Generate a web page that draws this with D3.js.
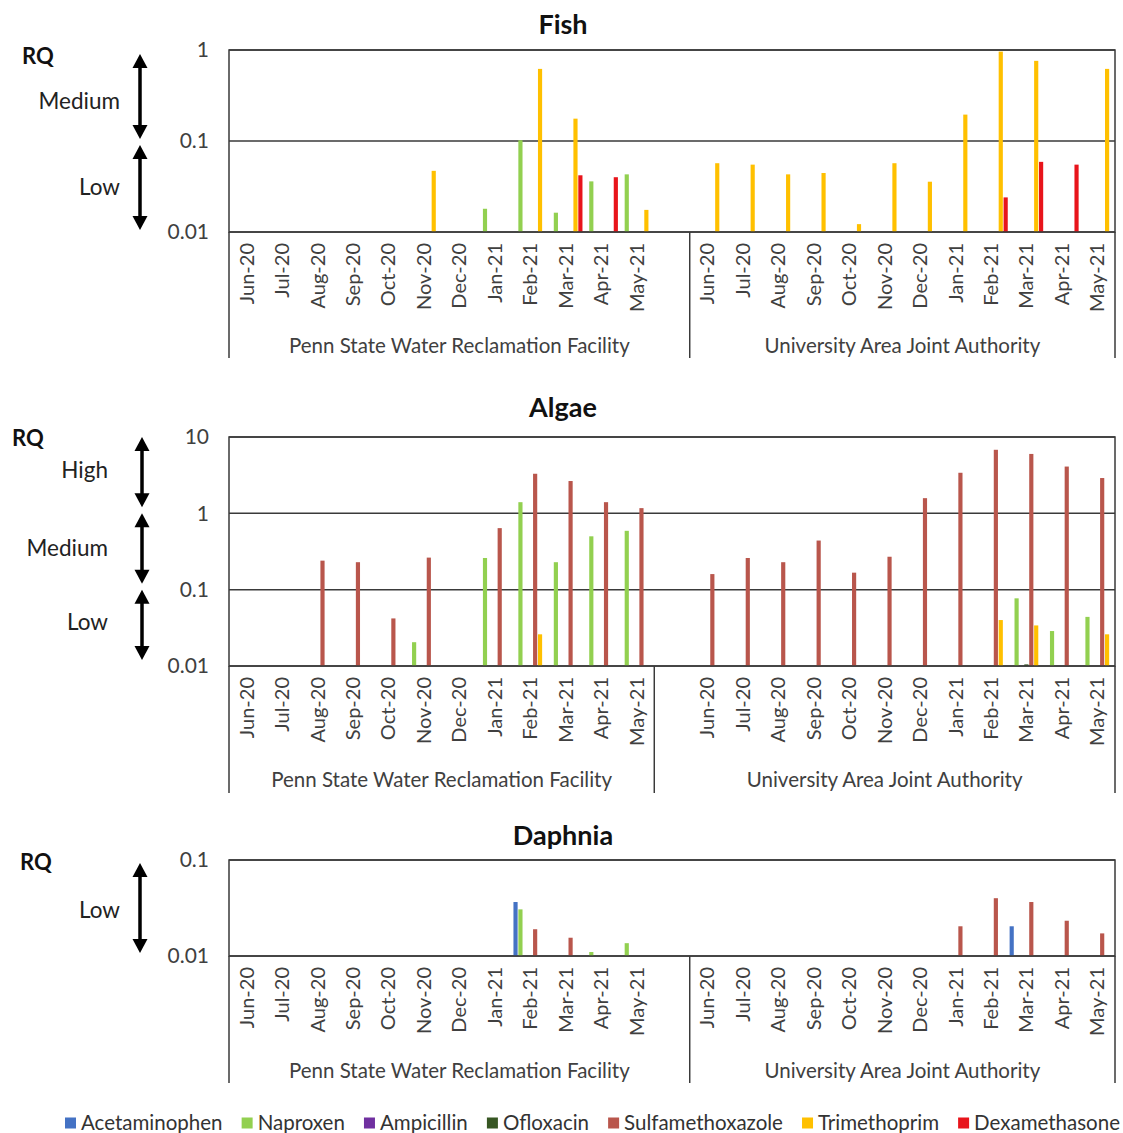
<!DOCTYPE html>
<html>
<head>
<meta charset="utf-8">
<script src="https://cdn.jsdelivr.net/npm/d3@7"></script>
<style>
  body { margin: 0; background: #fff; }
  svg { display: block; font-family: Lato, "Open Sans", sans-serif; }
</style>
</head>
<body>
<svg id="chart" width="1123" height="1133"></svg>
<script>
// ---------------- DATA ----------------
const months = ["Jun-20","Jul-20","Aug-20","Sep-20","Oct-20","Nov-20","Dec-20","Jan-21","Feb-21","Mar-21","Apr-21","May-21"];
const facilities = ["Penn State Water Reclamation Facility", "University Area Joint Authority"];
const series = ["Acetaminophen","Naproxen","Ampicillin","Ofloxacin","Sulfamethoxazole","Trimethoprim","Dexamethasone"];
const seriesColors = ["#4472C4","#92D050","#7030A0","#375623","#B9564C","#FFC000","#E8141B"];

// Values: 24 per series = 12 months Penn State, then 12 months UAJA (null = none)
const _ = null;
// Fish
const fishAcetaminophen    = [_,_,_,_,_,_,_,_,_,_,_,_,  _,_,_,_,_,_,_,_,_,_,_,_];
const fishNaproxen         = [_,_,_,_,_,_,_,0.018,0.102,0.0163,0.036,0.043,  _,_,_,_,_,_,_,_,_,_,_,_];
const fishAmpicillin       = [_,_,_,_,_,_,_,_,_,_,_,_,  _,_,_,_,_,_,_,_,_,_,_,_];
const fishOfloxacin        = [_,_,_,_,_,_,_,_,_,_,_,_,  _,_,_,_,_,_,_,_,_,_,_,_];
const fishSulfamethoxazole = [_,_,_,_,_,_,_,_,_,_,_,_,  _,_,_,_,_,_,_,_,_,_,_,_];
const fishTrimethoprim     = [_,_,_,_,_,0.047,_,_,0.62,0.176,_,0.0175,  0.057,0.055,0.043,0.0445,0.0122,0.057,0.0357,0.195,0.96,0.76,_,0.62];
const fishDexamethasone    = [_,_,_,_,_,_,_,_,_,0.042,0.040,_,  _,_,_,_,_,_,_,_,0.024,0.059,0.055,_];
// Algae
const algaeAcetaminophen    = [_,_,_,_,_,_,_,_,_,_,_,_,  _,_,_,_,_,_,_,_,_,_,_,_];
const algaeNaproxen         = [_,_,_,_,_,0.0205,_,0.26,1.4,0.229,0.50,0.59,  _,_,_,_,_,_,_,_,_,0.077,0.0287,0.044];
const algaeAmpicillin       = [_,_,_,_,_,_,_,_,_,_,_,_,  _,_,_,_,_,_,_,_,_,_,_,_];
const algaeOfloxacin        = [_,_,_,_,_,_,_,_,_,_,_,_,  _,_,_,_,_,_,_,_,_,0.0105,_,_];
const algaeSulfamethoxazole = [_,_,0.24,0.229,0.042,0.263,_,0.64,3.3,2.65,1.4,1.17,  0.16,0.26,0.229,0.44,0.167,0.27,1.58,3.4,6.8,6.0,4.1,2.9];
const algaeTrimethoprim     = [_,_,_,_,_,_,_,_,0.026,_,_,_,  _,_,_,_,_,_,_,_,0.040,0.034,_,0.026];
const algaeDexamethasone    = [_,_,_,_,_,_,_,_,_,_,_,_,  _,_,_,_,_,_,_,_,_,_,_,_];
// Daphnia
const daphniaAcetaminophen    = [_,_,_,_,_,_,_,_,0.0365,_,_,_,  _,_,_,_,_,_,_,_,_,0.0204,_,_];
const daphniaNaproxen         = [_,_,_,_,_,_,_,_,0.0306,_,0.011,0.0136,  _,_,_,_,_,_,_,_,_,_,_,_];
const daphniaAmpicillin       = [_,_,_,_,_,_,_,_,_,_,_,_,  _,_,_,_,_,_,_,_,_,_,_,_];
const daphniaOfloxacin        = [_,_,_,_,_,_,_,_,_,_,_,_,  _,_,_,_,_,_,_,_,_,_,_,_];
const daphniaSulfamethoxazole = [_,_,_,_,_,_,_,_,0.019,0.0155,_,_,  _,_,_,_,_,_,_,0.0204,0.040,0.0365,0.0233,0.0172];
const daphniaTrimethoprim     = [_,_,_,_,_,_,_,_,_,_,_,_,  _,_,_,_,_,_,_,_,_,_,_,_];
const daphniaDexamethasone    = [_,_,_,_,_,_,_,_,_,_,_,_,  _,_,_,_,_,_,_,_,_,_,_,_];

const fishTicks = [1, 0.1, 0.01];
const algaeTicks = [10, 1, 0.1, 0.01];
const daphniaTicks = [0.1, 0.01];

const fishBands = [["Medium", 1, 0.1], ["Low", 0.1, 0.01]];
const algaeBands = [["High", 10, 1], ["Medium", 1, 0.1], ["Low", 0.1, 0.01]];
const daphniaBands = [["Low", 0.1, 0.01]];

// ---------------- LAYOUT ----------------
const panels = [
  { title: "Fish", ticks: fishTicks, bands: fishBands,
    values: [fishAcetaminophen, fishNaproxen, fishAmpicillin, fishOfloxacin, fishSulfamethoxazole, fishTrimethoprim, fishDexamethasone],
    titleY: 34, top: 50, bottom: 232, axisBottom: 358, facY: 353, emptyInFirst: true,
    rqX: 22, rqY: 56, labelX: 120, arrowX: 140, labelDy: [6, 1], arrowShift: 1 },
  { title: "Algae", ticks: algaeTicks, bands: algaeBands,
    values: [algaeAcetaminophen, algaeNaproxen, algaeAmpicillin, algaeOfloxacin, algaeSulfamethoxazole, algaeTrimethoprim, algaeDexamethasone],
    titleY: 417, top: 437, bottom: 666, axisBottom: 793, facY: 787, emptyInFirst: false,
    rqX: 12, rqY: 438, labelX: 108, arrowX: 142, labelDy: [-5, -3, -6], arrowShift: -3 },
  { title: "Daphnia", ticks: daphniaTicks, bands: daphniaBands,
    values: [daphniaAcetaminophen, daphniaNaproxen, daphniaAmpicillin, daphniaOfloxacin, daphniaSulfamethoxazole, daphniaTrimethoprim, daphniaDexamethasone],
    titleY: 845, top: 860, bottom: 956, axisBottom: 1083, facY: 1078, emptyInFirst: true,
    rqX: 20, rqY: 862, labelX: 120, arrowX: 140, labelDy: [2], arrowShift: 0 }
];

const svg = d3.select("#chart");
const left = 229, right = 1115;
const textGray = "#404040";
const lineCol = "#3a3a3a";

// 25 slots: 12 PSU months, one empty slot, 12 UAJA months
const slots = d3.range(25);
const x0 = d3.scaleBand().domain(slots).range([left, right]).padding(0);
const x1 = d3.scaleBand().domain(series).range([0, x0.bandwidth()]).paddingInner(0.15).paddingOuter(0.19);
const slotOf = i => (i < 12 ? i : i + 1);

panels.forEach(p => {
  const g = svg.append("g");
  const domainMax = d3.max(p.ticks), domainMin = d3.min(p.ticks);
  const y = d3.scaleLog().domain([domainMin, domainMax]).range([p.bottom, p.top]);

  // title
  g.append("text").attr("x", 563).attr("y", p.titleY).attr("text-anchor", "middle")
    .attr("font-size", 27).attr("font-weight", "bold").attr("fill", "#111").text(p.title);

  // gridlines
  g.selectAll(".grid").data(p.ticks).enter().append("line")
    .attr("x1", left).attr("x2", right).attr("y1", d => y(d)).attr("y2", d => y(d))
    .attr("stroke", lineCol).attr("stroke-width", 1.5);

  // bars
  series.forEach((s, si) => {
    const vals = p.values[si].map((v, i) => ({ v, i })).filter(d => d.v != null);
    g.selectAll(null).data(vals).enter().append("rect")
      .attr("x", d => x0(slotOf(d.i)) + x1(s))
      .attr("width", x1.bandwidth())
      .attr("y", d => y(d.v))
      .attr("height", d => y(domainMin) - y(d.v))
      .attr("fill", seriesColors[si]);
  });

  // frame
  g.append("rect").attr("x", left).attr("y", p.top).attr("width", right - left).attr("height", p.bottom - p.top)
    .attr("fill", "none").attr("stroke", lineCol).attr("stroke-width", 1.5);

  // y tick labels
  const yAxis = d3.axisLeft(y).tickValues(p.ticks).tickFormat(d => String(d)).tickSize(0).tickPadding(0);
  const ya = g.append("g").attr("transform", `translate(209,0)`).call(yAxis);
  ya.select(".domain").remove();
  ya.selectAll("text").attr("font-size", 21).attr("fill", textGray).attr("font-family", "Lato, sans-serif");

  // category axis: month labels
  const labels = [];
  months.forEach((m, i) => labels.push({ m, slot: i }));
  months.forEach((m, i) => labels.push({ m, slot: i + 13 }));
  g.selectAll(null).data(labels).enter().append("text")
    .attr("transform", d => `translate(${x0(d.slot) + x0.bandwidth() / 2},${p.bottom + 11}) rotate(-90)`)
    .attr("text-anchor", "end").attr("dy", "0.35em")
    .attr("font-size", 20).attr("fill", textGray).text(d => d.m);

  // group separators
  const divider = p.emptyInFirst ? x0(13) : x0(12);
  [left, divider, right].forEach(xv => {
    g.append("line").attr("x1", xv).attr("x2", xv).attr("y1", p.bottom).attr("y2", p.axisBottom)
      .attr("stroke", lineCol).attr("stroke-width", 1.5);
  });
  const groups = [[left, divider], [divider, right]];
  facilities.forEach((f, fi) => {
    g.append("text").attr("x", (groups[fi][0] + groups[fi][1]) / 2).attr("y", p.facY)
      .attr("text-anchor", "middle").attr("font-size", 20.5).attr("fill", textGray).text(f);
  });

  // RQ annotation
  g.append("text").attr("x", p.rqX).attr("y", p.rqY).attr("dy", "0.35em")
    .attr("font-size", 22).attr("font-weight", "bold").attr("fill", "#111").text("RQ");

  p.bands.forEach(([lab, hi, lo], bi) => {
    const yt = y(hi) + 3 + p.arrowShift, yb = y(lo) - 3 + p.arrowShift;
    const hl = 14, hw = 7.5, ax = p.arrowX;
    g.append("line").attr("x1", ax).attr("x2", ax).attr("y1", yt + hl - 1).attr("y2", yb - hl + 1)
      .attr("stroke", "#000").attr("stroke-width", 3.5);
    g.append("path").attr("d", `M${ax},${yt} L${ax - hw},${yt + hl} L${ax + hw},${yt + hl} Z`).attr("fill", "#000");
    g.append("path").attr("d", `M${ax},${yb} L${ax - hw},${yb - hl} L${ax + hw},${yb - hl} Z`).attr("fill", "#000");
    g.append("text").attr("x", p.labelX).attr("y", (y(hi) + y(lo)) / 2 + p.labelDy[bi]).attr("dy", "0.35em")
      .attr("text-anchor", "end").attr("font-size", 22.5).attr("fill", "#222").text(lab);
  });
});

// ---------------- LEGEND ----------------
const leg = svg.append("g");
const legY = 1123, sq = 11, sqGap = 5, legStart = 65, legEnd = 1120;
const items = series.map((s, i) => {
  const t = leg.append("text").attr("y", legY).attr("dy", "0.35em").attr("font-size", 20.5)
    .attr("fill", "#333").text(s);
  return { t, w: t.node().getComputedTextLength(), i };
});
const totalW = d3.sum(items, d => sq + sqGap + d.w);
const gap = (legEnd - legStart - totalW) / (items.length - 1);
let cx = legStart;
items.forEach(d => {
  leg.append("rect").attr("x", cx).attr("y", legY - sq / 2).attr("width", sq).attr("height", sq)
    .attr("fill", seriesColors[d.i]);
  d.t.attr("x", cx + sq + sqGap);
  cx += sq + sqGap + d.w + gap;
});
</script>
</body>
</html>
